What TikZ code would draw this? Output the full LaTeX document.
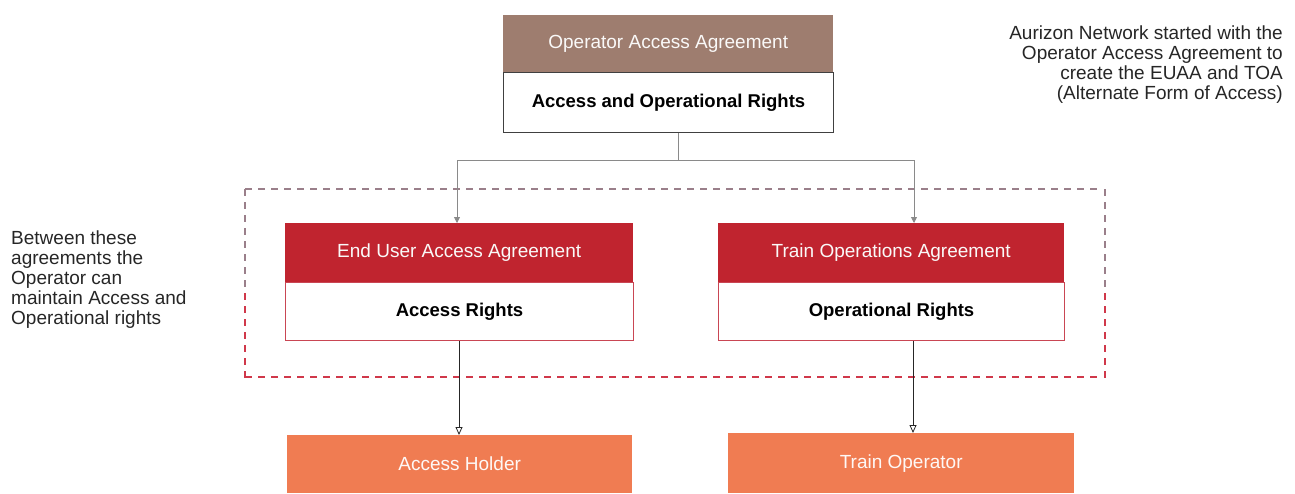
\documentclass[tikz,border=0pt]{standalone}
\usepackage{fontspec}
\setmainfont{Liberation Sans}
\usetikzlibrary{arrows.meta}
\definecolor{brownhd}{HTML}{9E7D6F}
\definecolor{redhd}{HTML}{C0242F}
\definecolor{redline}{HTML}{C94654}
\definecolor{orangebx}{HTML}{F07C52}
\definecolor{dashred}{HTML}{D0384A}
\definecolor{dashgray}{HTML}{9A7F8A}
\definecolor{conngray}{HTML}{8A8A8A}
\tikzset{
  hdr/.style={rectangle, anchor=north west, inner sep=0pt, text=white!95!brownhd,
    font=\fontsize{19}{20}\selectfont},
  bodybox/.style={rectangle, anchor=north west, inner sep=0pt, fill=white, line width=1pt,
    font=\fontsize{18.5}{20}\selectfont\bfseries},
  botbox/.style={rectangle, anchor=north west, inner sep=0pt, fill=orangebx, text=white!95!orangebx,
    font=\fontsize{19}{20}\selectfont},
  note/.style={inner sep=0pt, font=\fontsize{19}{20}\selectfont, text=black!85},
  conn/.style={draw=conngray, line width=0.8pt},
  downarrow/.style={draw=black!85, line width=0.8pt, -{Triangle[open, length=8pt, width=7pt]}},
  grpbox/.style={rectangle, anchor=north west, inner sep=0pt},
  dashseg/.style={line width=1.6pt}
}
\begin{document}
\begin{tikzpicture}[x=1pt, y=-1pt]
\useasboundingbox (0,0) rectangle (1295,493);
% group box (dashed border drawn as separate dashes)
\node[grpbox, minimum width=860pt, minimum height=188pt] (grp) at (245,189) {};
\foreach \x in {245,258,...,1095} {
  \draw[dashseg, dashgray] (\x,189) -- (\x+7,189);
  \draw[dashseg, dashred] (\x,377) -- (\x+7,377);
}
\foreach \y in {189,202,...,280} {
  \draw[dashseg, dashgray] (245,\y) -- (245,\y+7);
  \draw[dashseg, dashgray] (1105,\y) -- (1105,\y+7);
}
\foreach \y in {293,306,...,372} {
  \draw[dashseg, dashred] (245,\y) -- (245,\y+7);
  \draw[dashseg, dashred] (1105,\y) -- (1105,\y+7);
}
% top box
\node[hdr, fill=brownhd, minimum width=330pt, minimum height=57pt] (oaa) at (503,15) {Operator Access Agreement};
\node[bodybox, draw=black!75, minimum width=330pt, minimum height=60pt] (oar) at (503,72) {Access and Operational Rights};
% EUAA
\node[hdr, fill=redhd, minimum width=348pt, minimum height=59pt] (euaa) at (285,223) {End User Access Agreement};
\node[bodybox, draw=redline, minimum width=348pt, minimum height=58pt] (ar) at (285,282) {Access Rights};
% TOA
\node[hdr, fill=redhd, minimum width=346pt, minimum height=59pt] (toa) at (718,223) {Train Operations Agreement};
\node[bodybox, draw=redline, minimum width=346pt, minimum height=58pt] (opr) at (718,282) {Operational Rights};
% bottom
\node[botbox, minimum width=345pt, minimum height=58pt] (ah) at (287,435) {Access Holder};
\node[botbox, minimum width=346pt, minimum height=60pt] (trop) at (728,433) {Train Operator};
% notes
\node[note, anchor=north east, align=right] (rnote) at (1283,26) {Aurizon Network started with the\\Operator Access Agreement to\\create the EUAA and TOA\\(Alternate Form of Access)};
\node[note, anchor=north west, align=left] (lnote) at (11,231) {Between these\\agreements the\\Operator can\\maintain Access and\\Operational rights};
% connectors
\coordinate (j) at (678,160);
\coordinate (jl) at (457,160);
\coordinate (jr) at (914,160);
\coordinate (bl) at (459,0);
\coordinate (br) at (913,0);
\draw[conn] (oar.south -| j) -- (j);
\draw[conn] (jl) -- (jr);
\draw[conn, -{Triangle[length=6pt, width=6pt]}] (jl) -- (euaa.north -| jl);
\draw[conn, -{Triangle[length=6pt, width=6pt]}] (jr) -- (toa.north -| jr);
\draw[downarrow] (ar.south -| bl) -- (ah.north -| bl);
\draw[downarrow] (opr.south -| br) -- (trop.north -| br);
\end{tikzpicture}
\end{document}
